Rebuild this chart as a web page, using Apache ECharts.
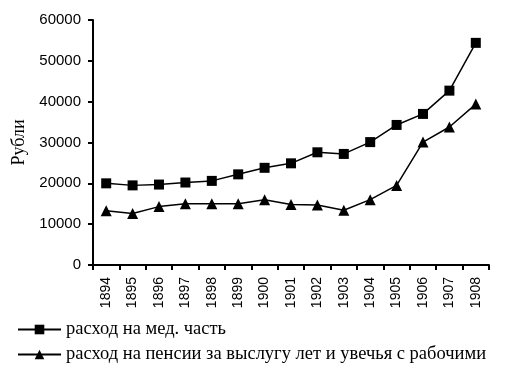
<!DOCTYPE html>
<html>
<head>
<meta charset="utf-8">
<script src="https://cdn.jsdelivr.net/npm/echarts@6/dist/echarts.min.js"></script>
<style>
  html, body { margin: 0; padding: 0; background: #fff; }
  #chart { width: 514px; height: 377px; }
</style>
</head>
<body>
<div id="chart"></div>
<script>
// годы
const years = ['1894', '1895', '1896', '1897', '1898', '1899', '1900', '1901',
  '1902', '1903', '1904', '1905', '1906', '1907', '1908'];
// расход на мед. часть
const medValues = [20000, 19500, 19700, 20200, 20600, 22200, 23800, 24900,
  27600, 27200, 30100, 34300, 37000, 42700, 54400];
// расход на пенсии
const pensionValues = [13300, 12600, 14300, 15000, 15000, 15000, 16000, 14800,
  14700, 13400, 16000, 19500, 30100, 33800, 39400];
const yTicks = [0, 10000, 20000, 30000, 40000, 50000, 60000];

const myChart = echarts.init(document.getElementById('chart'), null, { renderer: 'canvas' });

const option = {
  animation: false,
  backgroundColor: '#fff',
  color: ['#000', '#000'],
  grid: { left: 93, right: 25, top: 20, bottom: 112 },
  legend: {
    orient: 'vertical',
    left: 12,
    top: 315,
    itemWidth: 43,
    itemHeight: 12,
    itemGap: 6,
    textStyle: { color: '#000', fontFamily: 'Liberation Serif', fontSize: 18.5 },
    data: ['расход на мед. часть', 'расход на пенсии за выслугу лет и увечья с рабочими']
  },
  xAxis: {
    type: 'category',
    data: years,
    boundaryGap: true,
    axisLine: { lineStyle: { color: '#000', width: 2 } },
    axisTick: { show: true, length: 5, lineStyle: { color: '#000', width: 2 } },
    axisLabel: {
      rotate: 90,
      margin: 12,
      color: '#000',
      fontFamily: 'Liberation Sans',
      fontSize: 14,
      interval: 0
    }
  },
  yAxis: {
    type: 'value',
    min: yTicks[0],
    max: yTicks[yTicks.length - 1],
    interval: 10000,
    name: 'Рубли',
    nameLocation: 'middle',
    nameGap: 62,
    nameTextStyle: { color: '#000', fontFamily: 'Liberation Serif', fontSize: 18 },
    splitLine: { show: false },
    axisLine: { show: true, lineStyle: { color: '#000', width: 2 } },
    axisTick: { show: true, length: 5, lineStyle: { color: '#000', width: 2 } },
    axisLabel: {
      margin: 12,
      color: '#000',
      fontFamily: 'Liberation Sans',
      fontSize: 15,
      formatter: function (v) { return String(v); }
    }
  },
  series: [
    {
      name: 'расход на мед. часть',
      type: 'line',
      data: medValues,
      symbol: 'rect',
      symbolSize: 10,
      lineStyle: { color: '#000', width: 1.5 },
      itemStyle: { color: '#000' }
    },
    {
      name: 'расход на пенсии за выслугу лет и увечья с рабочими',
      type: 'line',
      data: pensionValues,
      symbol: 'triangle',
      symbolSize: 11,
      lineStyle: { color: '#000', width: 1.5 },
      itemStyle: { color: '#000' }
    }
  ]
};

myChart.setOption(option);
</script>
</body>
</html>
